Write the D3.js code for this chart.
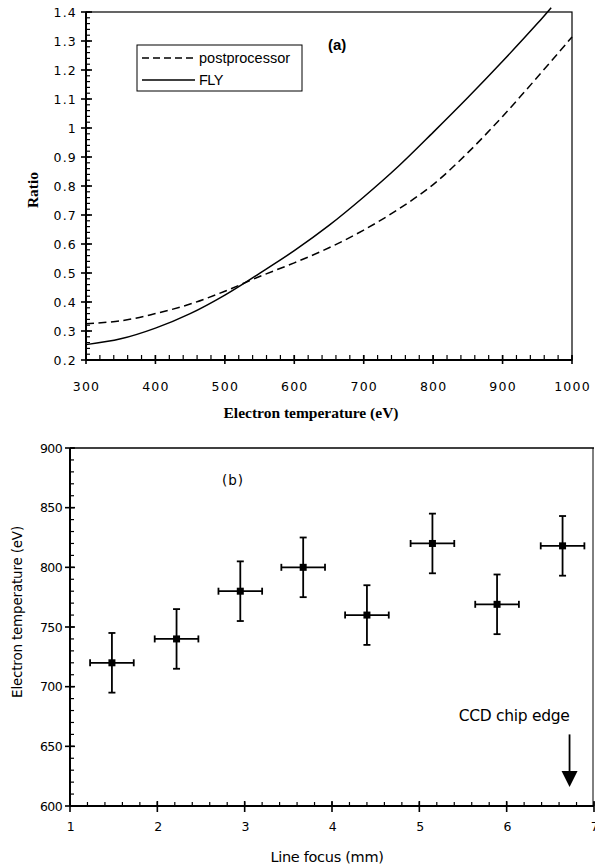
<!DOCTYPE html>
<html><head><meta charset="utf-8">
<script src="https://cdn.jsdelivr.net/npm/d3@7"></script>
<style>
body{margin:0;background:#fff;}
svg{display:block;}
</style></head>
<body>
<svg id="chart" width="595" height="867"></svg>
<script>
// ---- Panel (a) data ----
const tempsPost = [300,350,400,450,500,550,600,650,700,750,800,850,900,950,1000];
const postprocessor = [0.325,0.335,0.36,0.393,0.437,0.488,0.535,0.587,0.648,0.72,0.805,0.915,1.04,1.175,1.314];
const tempsFly = [300,350,400,450,500,550,600,650,700,750,800,850,900,950,970];
const fly = [0.253,0.273,0.31,0.36,0.424,0.499,0.577,0.664,0.762,0.868,0.985,1.105,1.23,1.36,1.415];
const xTicksA = [300,400,500,600,700,800,900,1000];
const yTicksA = [0.2,0.3,0.4,0.5,0.6,0.7,0.8,0.9,1,1.1,1.2,1.3,1.4];

// ---- Panel (b) data ----
const lineFocus = [1.48,2.22,2.95,3.67,4.40,5.15,5.89,6.64];
const electronTemp = [720,740,780,800,760,820,769,818];
const tempErr = [25,25,25,25,25,25,25,25];
const focusErr = [0.25,0.25,0.25,0.25,0.25,0.25,0.25,0.25];
const xTicksB = [1,2,3,4,5,6,7];
const yTicksB = [600,650,700,750,800,850,900];
const chipEdge = {x:6.72, yTop:660, yTip:616, label:"CCD chip edge"};

const svg = d3.select("#chart");

// ================= Panel (a) =================
const xa = d3.scaleLinear().domain([300,1000]).range([86,572]);
const ya = d3.scaleLinear().domain([0.2,1.4]).range([360,12]);
const ga = svg.append("g");

ga.append("rect").attr("x",xa(300)).attr("y",ya(1.4)).attr("width",xa(1000)-xa(300)).attr("height",ya(0.2)-ya(1.4))
  .attr("fill","none").attr("stroke","#000").attr("stroke-width",1.2);
ga.append("line").attr("x1",xa(300)).attr("x2",xa(1000)).attr("y1",ya(0.2)).attr("y2",ya(0.2)).attr("stroke","#000").attr("stroke-width",2);
ga.append("line").attr("x1",xa(300)).attr("x2",xa(300)).attr("y1",ya(0.2)).attr("y2",ya(1.4)).attr("stroke","#000").attr("stroke-width",2);

const xMinorA = d3.range(300,1000.1,20);
const yMinorA = d3.range(0.2,1.4001,0.02);
ga.append("g").selectAll("line").data(xMinorA).join("line")
  .attr("x1",d=>xa(d)).attr("x2",d=>xa(d)).attr("y1",ya(0.2)).attr("y2",ya(0.2)-5)
  .attr("stroke","#000").attr("stroke-width",1.2);
ga.append("g").selectAll("line").data(yMinorA).join("line")
  .attr("x1",xa(300)).attr("x2",xa(300)+4).attr("y1",d=>ya(d)).attr("y2",d=>ya(d))
  .attr("stroke","#000").attr("stroke-width",1.2);
ga.append("g").selectAll("line").data(xTicksA).join("line")
  .attr("x1",d=>xa(d)).attr("x2",d=>xa(d)).attr("y1",ya(0.2)-5).attr("y2",ya(0.2)+4)
  .attr("stroke","#000").attr("stroke-width",1.6);
ga.append("g").selectAll("line").data(yTicksA).join("line")
  .attr("x1",xa(300)-5).attr("x2",xa(300)+6).attr("y1",d=>ya(d)).attr("y2",d=>ya(d))
  .attr("stroke","#000").attr("stroke-width",1.6);

const axXa = ga.append("g").attr("transform",`translate(0,${ya(0.2)})`)
  .call(d3.axisBottom(xa).tickValues(xTicksA).tickSize(0).tickPadding(22).tickFormat(d3.format("d")));
const axYa = ga.append("g").attr("transform",`translate(${xa(300)},0)`)
  .call(d3.axisLeft(ya).tickValues(yTicksA).tickSize(0).tickPadding(9).tickFormat(d=>String(+d.toFixed(1))));
[axXa,axYa].forEach(a=>{
  a.select(".domain").remove();
  a.selectAll("text").attr("font-family","'DejaVu Sans', sans-serif").attr("font-size",12.5)
   .attr("letter-spacing","1.2px").attr("fill","#000");
});

const lineA = (xs)=>d3.line().x((d,i)=>xa(xs[i])).y(d=>ya(d)).curve(d3.curveCatmullRom.alpha(0.5));
ga.append("path").datum(postprocessor).attr("d",lineA(tempsPost))
  .attr("fill","none").attr("stroke","#000").attr("stroke-width",1.5).attr("stroke-dasharray","8,4.5");
ga.append("path").datum(fly).attr("d",lineA(tempsFly))
  .attr("fill","none").attr("stroke","#000").attr("stroke-width",1.5);

const lg = ga.append("g");
lg.append("rect").attr("x",137).attr("y",45).attr("width",165).attr("height",46)
  .attr("fill","#fff").attr("stroke","#000").attr("stroke-width",1);
lg.append("line").attr("x1",142).attr("x2",195).attr("y1",58).attr("y2",58)
  .attr("stroke","#000").attr("stroke-width",1.3).attr("stroke-dasharray","7,4");
lg.append("line").attr("x1",142).attr("x2",195).attr("y1",80).attr("y2",80)
  .attr("stroke","#000").attr("stroke-width",1.3);
lg.append("text").attr("x",199).attr("y",63).text("postprocessor")
  .attr("font-family","'Liberation Sans', Arial, sans-serif").attr("font-size",14.5);
lg.append("text").attr("x",199).attr("y",85).text("FLY")
  .attr("font-family","'Liberation Sans', Arial, sans-serif").attr("font-size",14.5).attr("letter-spacing","-0.5px");

ga.append("text").attr("x",328).attr("y",50).text("(a)")
  .attr("font-family","'Liberation Sans', Arial, sans-serif").attr("font-size",15).attr("font-weight","bold");

ga.append("text").attr("x",(xa(300)+xa(1000))/2 - 18).attr("y",418).attr("text-anchor","middle")
  .text("Electron temperature (eV)")
  .attr("font-family","'Liberation Serif', 'Times New Roman', serif").attr("font-size",15.5).attr("font-weight","bold");
ga.append("text").attr("transform","translate(38,190) rotate(-90)").attr("text-anchor","middle")
  .text("Ratio")
  .attr("font-family","'Liberation Serif', 'Times New Roman', serif").attr("font-size",15.5).attr("font-weight","bold");

// ================= Panel (b) =================
const xb = d3.scaleLinear().domain([1,7]).range([70,594]);
const yb = d3.scaleLinear().domain([600,900]).range([806,448]);
const gb = svg.append("g");

gb.append("line").attr("x1",xb(1)).attr("x2",xb(7)).attr("y1",yb(900)).attr("y2",yb(900)).attr("stroke","#000").attr("stroke-width",1.3);
gb.append("line").attr("x1",xb(7)-1).attr("x2",xb(7)-1).attr("y1",yb(900)).attr("y2",yb(600)).attr("stroke","#000").attr("stroke-width",1);
gb.append("line").attr("x1",xb(1)).attr("x2",xb(7)).attr("y1",yb(600)).attr("y2",yb(600)).attr("stroke","#000").attr("stroke-width",2);
gb.append("line").attr("x1",xb(1)).attr("x2",xb(1)).attr("y1",yb(600)).attr("y2",yb(900)).attr("stroke","#000").attr("stroke-width",2);

const xMinorB = d3.range(1,7.001,0.2);
const yMinorB = d3.range(600,900.1,10);
gb.append("g").selectAll("line").data(xMinorB).join("line")
  .attr("x1",d=>xb(d)).attr("x2",d=>xb(d)).attr("y1",yb(600)).attr("y2",yb(600)-4)
  .attr("stroke","#000").attr("stroke-width",1.2);
gb.append("g").selectAll("line").data(yMinorB).join("line")
  .attr("x1",xb(1)).attr("x2",xb(1)+4).attr("y1",d=>yb(d)).attr("y2",d=>yb(d))
  .attr("stroke","#000").attr("stroke-width",1.2);
gb.append("g").selectAll("line").data(xTicksB).join("line")
  .attr("x1",d=>xb(d)).attr("x2",d=>xb(d)).attr("y1",yb(600)-5).attr("y2",yb(600)+6)
  .attr("stroke","#000").attr("stroke-width",1.6);
gb.append("g").selectAll("line").data(yTicksB).join("line")
  .attr("x1",xb(1)-5).attr("x2",xb(1)+5).attr("y1",d=>yb(d)).attr("y2",d=>yb(d))
  .attr("stroke","#000").attr("stroke-width",1.6);

const axXb = gb.append("g").attr("transform",`translate(0,${yb(600)})`)
  .call(d3.axisBottom(xb).tickValues(xTicksB).tickSize(0).tickPadding(16).tickFormat(d3.format("d")));
const axYb = gb.append("g").attr("transform",`translate(${xb(1)},0)`)
  .call(d3.axisLeft(yb).tickValues(yTicksB).tickSize(0).tickPadding(8).tickFormat(d3.format("d")));
[axXb,axYb].forEach(a=>{
  a.select(".domain").remove();
  a.selectAll("text").attr("font-family","'DejaVu Sans', sans-serif").attr("font-size",12.5)
   .attr("letter-spacing","-0.6px").attr("fill","#000");
});

const pts = lineFocus.map((f,i)=>({x:f,y:electronTemp[i],ey:tempErr[i],ex:focusErr[i]}));
const eb = gb.append("g").attr("stroke","#000").attr("stroke-width",1.8);
eb.selectAll(".v").data(pts).join("line").attr("class","v")
  .attr("x1",d=>xb(d.x)).attr("x2",d=>xb(d.x)).attr("y1",d=>yb(d.y-d.ey)).attr("y2",d=>yb(d.y+d.ey));
eb.selectAll(".h").data(pts).join("line").attr("class","h")
  .attr("x1",d=>xb(d.x-d.ex)).attr("x2",d=>xb(d.x+d.ex)).attr("y1",d=>yb(d.y)).attr("y2",d=>yb(d.y));
eb.selectAll(".ct").data(pts).join("line").attr("class","ct")
  .attr("x1",d=>xb(d.x)-3.5).attr("x2",d=>xb(d.x)+3.5).attr("y1",d=>yb(d.y+d.ey)).attr("y2",d=>yb(d.y+d.ey));
eb.selectAll(".cb").data(pts).join("line").attr("class","cb")
  .attr("x1",d=>xb(d.x)-3.5).attr("x2",d=>xb(d.x)+3.5).attr("y1",d=>yb(d.y-d.ey)).attr("y2",d=>yb(d.y-d.ey));
eb.selectAll(".cl").data(pts).join("line").attr("class","cl")
  .attr("x1",d=>xb(d.x-d.ex)).attr("x2",d=>xb(d.x-d.ex)).attr("y1",d=>yb(d.y)-3.5).attr("y2",d=>yb(d.y)+3.5);
eb.selectAll(".cr").data(pts).join("line").attr("class","cr")
  .attr("x1",d=>xb(d.x+d.ex)).attr("x2",d=>xb(d.x+d.ex)).attr("y1",d=>yb(d.y)-3.5).attr("y2",d=>yb(d.y)+3.5);
gb.append("g").selectAll("rect").data(pts).join("rect")
  .attr("x",d=>xb(d.x)-3.5).attr("y",d=>yb(d.y)-3.5).attr("width",7).attr("height",7).attr("fill","#000");

gb.append("text").attr("x",222).attr("y",485).text("(b)")
  .attr("font-family","'DejaVu Sans', sans-serif").attr("font-size",13.5).attr("letter-spacing","1px");
gb.append("text").attr("x",xb(chipEdge.x)).attr("y",yb(chipEdge.yTop)-13).attr("text-anchor","end")
  .text(chipEdge.label)
  .attr("font-family","'DejaVu Sans', sans-serif").attr("font-size",15.5).attr("letter-spacing","-0.3px");
const ax = xb(chipEdge.x), tipY = yb(chipEdge.yTip);
gb.append("line").attr("x1",ax).attr("x2",ax).attr("y1",yb(chipEdge.yTop)).attr("y2",tipY-12)
  .attr("stroke","#000").attr("stroke-width",1.8);
gb.append("path").attr("d",`M${ax-8},${tipY-16}L${ax+8},${tipY-16}L${ax},${tipY}Z`).attr("fill","#000");

gb.append("text").attr("x",327).attr("y",862).attr("text-anchor","middle").text("Line focus (mm)")
  .attr("font-family","'DejaVu Sans', sans-serif").attr("font-size",14.5).attr("letter-spacing","-0.3px");
gb.append("text").attr("transform","translate(22,612) rotate(-90)").attr("text-anchor","middle")
  .text("Electron temperature (eV)")
  .attr("font-family","'DejaVu Sans', sans-serif").attr("font-size",13.5).attr("letter-spacing","-0.2px");
</script>
</body></html>
